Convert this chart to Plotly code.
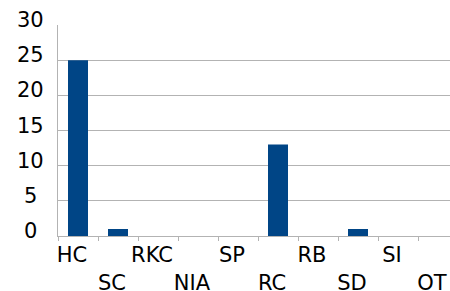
import plotly.graph_objects as go

categories = ["HC", "SC", "RKC", "NIA", "SP", "RC", "RB", "SD", "SI", "OT"]
values = [25, 1, 0, 0, 0, 13, 0, 1, 0, 0]
y_ticks = [0, 5, 10, 15, 20, 25, 30]

FONT = dict(family="DejaVu Sans", size=21, color="#000000")
GRID = "#b3b3b3"

# staggered category labels (every second one on a second line)
tick_text = [c if i % 2 == 0 else "<br>" + c for i, c in enumerate(categories)]

fig = go.Figure(
    go.Bar(x=categories, y=values, marker=dict(color="#004586", line=dict(width=0)),
           hoverinfo="skip")
)

fig.update_layout(
    width=450,
    height=291,
    margin=dict(l=58, r=0, t=25, b=55, autoexpand=False),
    paper_bgcolor="white",
    plot_bgcolor="white",
    bargap=0.5,
    showlegend=False,
    font=FONT,
)

fig.update_xaxes(
    type="category",
    range=[-0.5, 9.3],
    tickson="boundaries",
    ticks="outside",
    ticklen=4,
    tickcolor=GRID,
    showline=True,
    linecolor=GRID,
    linewidth=1,
    showgrid=False,
    tickmode="array",
    tickvals=categories,
    ticktext=tick_text,
    tickangle=0,
    ticklabelshift=-6,
    tickfont=FONT,
    automargin=False,
)

fig.update_yaxes(
    range=[0, 30],
    tickmode="array",
    tickvals=y_ticks,
    showticklabels=False,
    showgrid=True,
    gridcolor=GRID,
    gridwidth=1,
    showline=True,
    linecolor=GRID,
    linewidth=1,
    zeroline=False,
    ticks="",
    automargin=False,
)

for v in y_ticks:
    fig.add_annotation(
        x=0, xref="paper", y=v, yref="y",
        text=str(v), showarrow=False,
        xanchor="center", yanchor="middle",
        xshift=-28, yshift=5,
        font=FONT,
    )

fig.write_html(
    "out.html",
    config={"displayModeBar": False, "staticPlot": True},
    post_script="document.body.style.margin='0';document.body.style.overflow='hidden';",
)
